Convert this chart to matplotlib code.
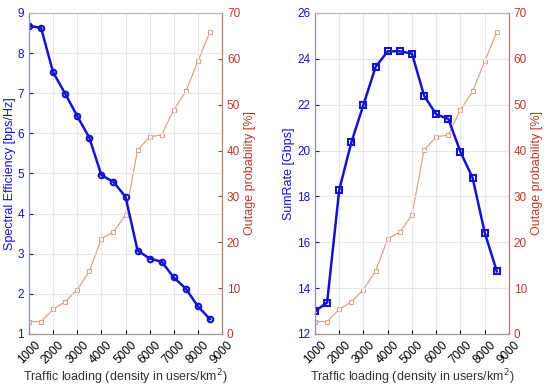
import matplotlib
matplotlib.use('Agg')
import matplotlib.pyplot as plt

# traffic loading (users/km^2)
density = [1000, 1500, 2000, 2500, 3000, 3500, 4000, 4500,
           5000, 5500, 6000, 6500, 7000, 7500, 8000, 8500]

spectral_eff = [8.68, 8.63, 7.52, 6.99, 6.43, 5.89, 4.96, 4.79,
                4.42, 3.08, 2.88, 2.80, 2.41, 2.13, 1.69, 1.37]

sum_rate = [12.99, 13.37, 18.29, 20.36, 22.00, 23.65, 24.33, 24.33,
            24.23, 22.39, 21.58, 21.38, 19.94, 18.81, 16.42, 14.73]

outage = [2.7, 2.7, 5.4, 7.0, 9.7, 13.7, 20.8, 22.2,
          26.0, 40.1, 43.0, 43.4, 48.9, 52.9, 59.5, 65.9]

xticks = [1000, 2000, 3000, 4000, 5000, 6000, 7000, 8000, 9000]

plt.rcParams['font.family'] = ['Liberation Sans', 'DejaVu Sans']

BLUE = '#1414cc'
RED = '#c0392b'
TAN = '#d9a58a'

fig = plt.figure(figsize=(5.5, 3.89), dpi=100)

panels = [
    ([0.0527, 0.1414, 0.351, 0.8252], spectral_eff, 'o', (1, 9),
     'Spectral Efficiency [bps/Hz]'),
    ([0.5727, 0.1414, 0.3527, 0.8252], sum_rate, 's', (12, 26),
     'SumRate [Gbps]'),
]

for pos, yvals, mk, ylim, ylab in panels:
    ax = fig.add_axes(pos)
    ax2 = ax.twinx()
    ax.set_zorder(ax2.get_zorder() + 1)
    ax.patch.set_visible(False)

    ax.plot(density, yvals, color=BLUE, marker=mk, markersize=4,
            markerfacecolor='none', markeredgewidth=1.5, linewidth=1.8)
    ax2.plot(density, outage, color=TAN, marker='s', markersize=3.5,
             markerfacecolor='white', markeredgewidth=0.8, linewidth=0.9)

    ax.set_xlim(1000, 9000)
    ax.set_ylim(*ylim)
    ax2.set_ylim(0, 70)
    ax.set_xticks(xticks)
    ax.set_xticklabels([str(t) for t in xticks], rotation=45, fontsize=8.5)
    ax.tick_params(axis='y', colors=BLUE, labelsize=8.5, length=3,
                   direction='in')
    ax.tick_params(axis='x', labelsize=8.5, length=3, direction='in')
    ax2.tick_params(axis='y', colors=RED, labelsize=8.5, length=3,
                    direction='in')
    ax.grid(True, color='#e6e6ee', linewidth=0.8)
    ax.set_axisbelow(True)

    ax.set_ylabel(ylab, color=BLUE, fontsize=9, labelpad=1)
    ax2.set_ylabel('Outage probability [%]', color=RED, fontsize=9, labelpad=3)
    ax.set_xlabel('Traffic loading (density in users/km$^2$)', fontsize=9,
                  color='#333333', labelpad=1)

    for a in (ax, ax2):
        a.spines['top'].set_color('#bbbbbb')
        a.spines['bottom'].set_color('#999999')
        a.spines['left'].set_color('#8888dd')
        a.spines['right'].set_color('#b08070')

fig.savefig('out.png', dpi=100)
